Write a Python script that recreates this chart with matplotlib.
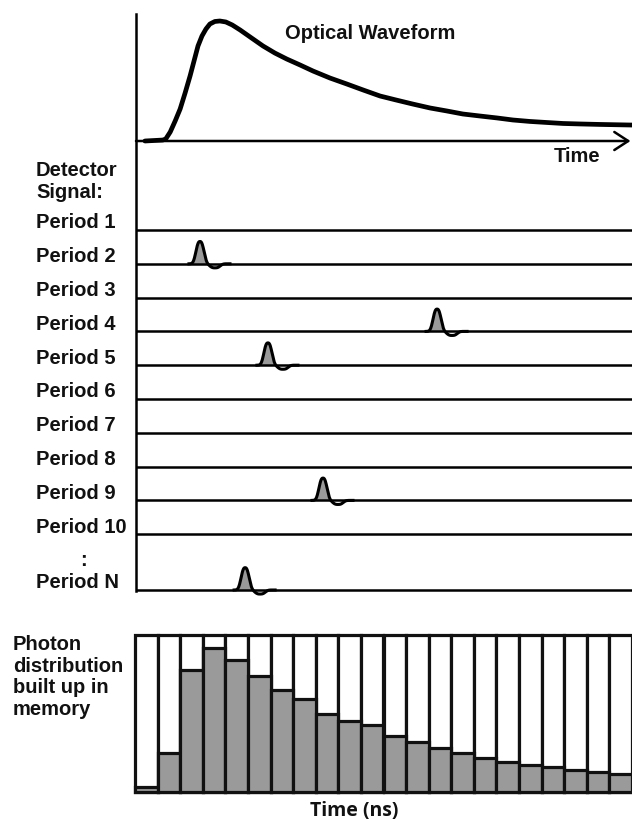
import numpy as np
import matplotlib.pyplot as plt
from matplotlib.patches import Rectangle

# optical waveform (time 0..1, amplitude 0..1)
wave_t = [0.018, 0.054, 0.060, 0.069, 0.079, 0.089, 0.099, 0.109, 0.117, 0.125, 0.133,
          0.141, 0.149, 0.159, 0.169, 0.181, 0.194, 0.210, 0.230, 0.256, 0.280, 0.304,
          0.331, 0.357, 0.391, 0.425, 0.458, 0.492, 0.524, 0.558, 0.593, 0.627, 0.659,
          0.694, 0.728, 0.760, 0.794, 0.829, 0.861, 0.895, 0.935, 1.0]
wave_amp = [0.0, 0.008, 0.017, 0.075, 0.167, 0.267, 0.4, 0.542, 0.667, 0.792, 0.875,
            0.933, 0.975, 0.996, 1.0, 0.992, 0.967, 0.925, 0.867, 0.792, 0.733, 0.683,
            0.633, 0.583, 0.525, 0.475, 0.425, 0.375, 0.342, 0.308, 0.275, 0.25, 0.225,
            0.208, 0.192, 0.175, 0.163, 0.154, 0.146, 0.142, 0.138, 0.133]

# detector periods and the photons seen in them
period_labels = ['Period 1', 'Period 2', 'Period 3', 'Period 4', 'Period 5', 'Period 6',
                 'Period 7', 'Period 8', 'Period 9', 'Period 10', 'Period N']
photon_periods = ['Period 2', 'Period 4', 'Period 5', 'Period 9', 'Period N']
photon_times = [0.129, 0.607, 0.266, 0.377, 0.220]

# histogram in memory
counts = [0.03, 0.25, 0.78, 0.92, 0.84, 0.74, 0.65, 0.59, 0.50, 0.45, 0.425,
          0.354, 0.316, 0.278, 0.25, 0.215, 0.19, 0.173, 0.158, 0.143, 0.13, 0.116]

W, H = 632, 820
BOLD = dict(family='Liberation Sans', weight='bold', fontsize=14.5, color='#111111')
LW = 1.8
GREY = '#9a9a9a'

fig = plt.figure(figsize=(W / 100, H / 100), dpi=100)


def fig_rect(x0, y0, x1, y1):
    # pixel box (top-left origin) -> figure fraction rect
    return [x0 / W, 1 - y1 / H, (x1 - x0) / W, (y1 - y0) / H]


# ---- top: optical waveform
ax1 = fig.add_axes(fig_rect(136, 15, 632, 142))
ax1.set_xlim(0, 1)
ax1.set_ylim(0, 127 / 120)
ax1.axis('off')
ax1.plot(wave_t, wave_amp, color='black', lw=3.4, solid_capstyle='round',
         solid_joinstyle='round', clip_on=False)
ax1.annotate('', xy=(0.997, 0), xytext=(0, 0), xycoords='data',
             arrowprops=dict(arrowstyle='->,head_length=1.0,head_width=0.65', lw=LW,
                             color='black', shrinkA=0, shrinkB=0), annotation_clip=False)
ax1.text(0.472, 0.905, 'Optical Waveform', ha='center', va='center', **BOLD)
ax1.text(0.89, -0.125, 'Time', ha='center', va='center', **BOLD)

# ---- middle: detector signal per period
row_gap = 33.8
ax2 = fig.add_axes(fig_rect(136, 142, 632, 592))
ax2.set_xlim(0, 1)
rows = list(range(1, 11)) + [1 + (591 - 231) / row_gap]
top_row = 1 - (231 - 142) / row_gap
bot_row = 1 + (592 - 231) / row_gap
ax2.set_ylim(bot_row, top_row)
ax2.axis('off')
row_of = dict(zip(period_labels, rows))

px = 1 / 496  # one pixel in time units


def pulse(t0):
    x = np.linspace(t0 - 11 * px, t0 + 30 * px, 160)
    d = (x - t0) / px
    up = 0.66 * np.exp(-0.5 * (np.abs(d / 3.8)) ** 2.6)
    down = -0.12 * np.exp(-0.5 * (np.abs((d - 15) / 4.8)) ** 3)
    return x, up + down, up


for lab, r in zip(period_labels, rows):
    ax2.plot([0, 1], [r, r], color='black', lw=LW, clip_on=False, solid_capstyle='butt')
    y_px = 231 + (r - 1) * row_gap
    fig.text(36 / W, 1 - (y_px - 8) / H, lab, ha='left', va='center', **BOLD)

for lab, t0 in zip(photon_periods, photon_times):
    r = row_of[lab]
    x, y, up = pulse(t0)
    ax2.fill_between(x, r, r - up, color=GREY, lw=0)
    ax2.plot(x, r - y, color='black', lw=2.2, solid_joinstyle='round', clip_on=False)

fig.text(36 / W, 1 - 170 / H, 'Detector', ha='left', va='center', **BOLD)
fig.text(36 / W, 1 - 193 / H, 'Signal:', ha='left', va='center', **BOLD)
fig.text(83 / W, 1 - 560 / H, ':', ha='center', va='center', **BOLD)

# vertical axis through top and middle
fig.add_artist(plt.Line2D([136 / W, 136 / W], [1 - 15 / H, 1 - 592 / H],
                          color='black', lw=LW))

# ---- bottom: photon histogram
ax3 = fig.add_axes(fig_rect(135, 636, 632, 793))
ax3.set_xlim(0, len(counts))
ax3.set_ylim(0, 1)
ax3.axis('off')
for i, c in enumerate(counts):
    ax3.add_patch(Rectangle((i, 0), 1, 1, facecolor='white', edgecolor='#111111',
                            lw=2.3, clip_on=False))
for i, c in enumerate(counts):
    ax3.add_patch(Rectangle((i, 0), 1, c, facecolor=GREY, edgecolor='#111111',
                            lw=2.3, clip_on=False))

fig.text(13 / W, 1 - 635 / H,
         'Photon\ndistribution\nbuilt up in\nmemory', ha='left', va='top',
         linespacing=1.17, **BOLD)
fig.text(354 / W, 1 - 811 / H, 'Time (ns)', ha='center', va='center',
         family='Open Sans', weight='bold', fontsize=14, color='#111111')

fig.savefig('out.png', dpi=100, facecolor='white')
